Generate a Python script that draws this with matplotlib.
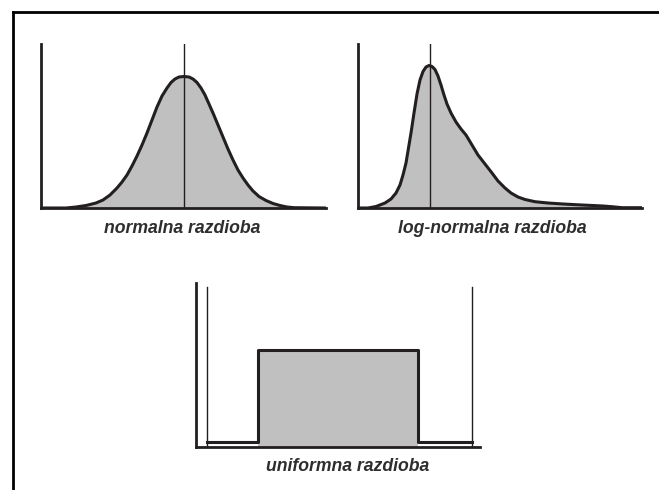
import numpy as np
import matplotlib.pyplot as plt
from matplotlib.lines import Line2D

# curve heights (x: px from y-axis, y: px above baseline)
normal_x = [0, 25, 35, 45, 55, 62, 69, 76, 81, 86, 91, 96, 101, 106, 111, 116, 121, 126, 130, 134, 138, 143,
            148, 152, 156, 160, 164, 168, 172, 177, 182, 187, 192, 197, 202, 207, 212, 218, 225, 232, 239, 246, 253, 285]
normal_y = [0, 0, 1, 2.5, 5, 8, 13, 20, 26, 33, 42, 52, 63, 75, 88, 101, 112, 120, 125.5, 129, 131, 131.5,
            131, 129, 125.5, 120, 113, 104, 95, 83, 71, 59, 48, 38, 30, 23, 17, 11.5, 7.5, 4.5, 2.5, 1, 0.3, 0]
normal_mean = 143

lognorm_x = [0, 10, 18, 27, 33, 38, 42, 45, 48, 50, 53, 56, 59, 62, 65, 68, 71, 74, 77, 80, 83, 86, 89, 93,
             98, 103, 108, 114, 120, 127, 134, 140, 147, 153, 160, 167, 177, 190, 205, 224, 245, 255, 264, 284]
lognorm_y = [0, 0, 1.5, 5, 9, 15, 23, 33, 45, 57, 75, 95, 114, 128, 136.5, 141, 142.5, 141.5, 138.5, 132, 123,
             113, 104, 95, 86, 79, 73, 63, 53, 44, 35, 27, 20, 15, 11, 8.5, 6.3, 5, 4, 3, 2, 1.2, 0.3, 0.3]
lognorm_mode = 72

uni_x = [11, 62, 62, 222, 222, 276]
uni_y = [5, 5, 97, 97, 5, 5]
uni_lims = [11, 276]

labels = ['normalna razdioba', 'log-normalna razdioba', 'uniformna razdioba']

W, H = 659, 490
fig = plt.figure(figsize=(W / 100, H / 100), dpi=100)
dark = '#231f20'
fill = '#c0c0c0'
lab_font = dict(family='Liberation Sans', weight='bold', style='italic', size=12.7, color='#2e2e2e')


def panel(left, top, right, bottom):
    ax = fig.add_axes([left / W, 1 - bottom / H, (right - left) / W, (bottom - top) / H])
    ax.set_xlim(0, right - left)
    ax.set_ylim(0, bottom - top)
    for s in ['top', 'right']:
        ax.spines[s].set_visible(False)
    for s in ['left', 'bottom']:
        ax.spines[s].set_linewidth(2)
        ax.spines[s].set_color(dark)
    ax.set_xticks([])
    ax.set_yticks([])
    ax.patch.set_alpha(0)
    return ax


# normalna
ax1 = panel(41, 44, 326, 208)
ax1.fill_between(normal_x, normal_y, color=fill, lw=0)
ax1.plot(normal_x, normal_y, color=dark, lw=2.2, solid_joinstyle='round')
ax1.axvline(normal_mean, color=dark, lw=1)
ax1.text((182 - 41) / 285, -0.125, labels[0], transform=ax1.transAxes, ha='center', va='center', **lab_font)

# log-normalna
ax2 = panel(358, 44, 642, 208)
ax2.fill_between(lognorm_x, lognorm_y, color=fill, lw=0)
ax2.plot(lognorm_x, lognorm_y, color=dark, lw=2.2, solid_joinstyle='round')
ax2.axvline(lognorm_mode, color=dark, lw=1)
ax2.text((492 - 358) / 284, -0.125, labels[1], transform=ax2.transAxes, ha='center', va='center', **lab_font)

# uniformna
ax3 = panel(196, 283, 480, 447)
ax3.fill_between(uni_x[2:4], uni_y[2:4], color=fill, lw=0)
ax3.plot(uni_x, uni_y, color=dark, lw=2.2)
for v in uni_lims:
    ax3.plot([v, v], [0, 160], color=dark, lw=1)
ax3.text((348 - 196) / 284, -0.12, labels[2], transform=ax3.transAxes, ha='center', va='center', **lab_font)

# okvir
fig.add_artist(Line2D([13 / W, 1], [1 - 12 / H, 1 - 12 / H], color='black', lw=2))
fig.add_artist(Line2D([13 / W, 13 / W], [1 - 12 / H, 0], color='black', lw=2))

fig.savefig('out.png', dpi=100)
